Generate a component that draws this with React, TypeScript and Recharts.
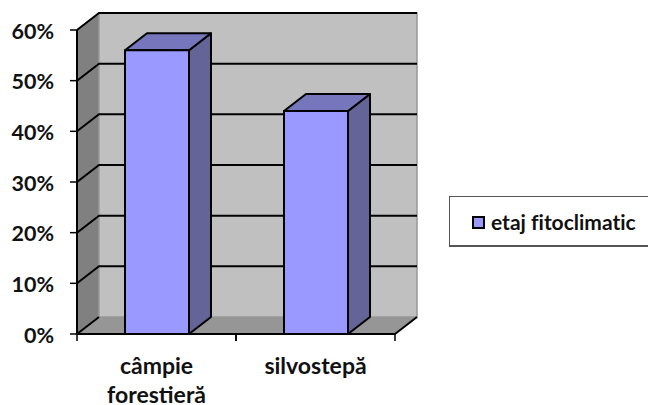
import { BarChart, Bar, XAxis, YAxis, CartesianGrid, Legend, ReferenceArea } from 'recharts';

const categories = ['câmpie forestieră', 'silvostepă'];
const seriesValues = [0.56, 0.44];
const yTicks = [0, 0.1, 0.2, 0.3, 0.4, 0.5, 0.6];
const seriesName = 'etaj fitoclimatic';

const chartData = categories.map((name, i) => ({ name, value: seriesValues[i] }));

const FONT = 'Lato, "Open Sans", sans-serif';
const DX = 22; // 3d depth
const DY = 17;
const PLOT_W = 318;

// side wall, floor and back wall of the 3d box
const Walls = (props: any) => {
  const { x, y, width, height } = props;
  const b = y + height;
  const r = x + width;
  return (
    <g>
      <polygon points={`${x},${y} ${x + DX},${y - DY} ${x + DX},${b - DY} ${x},${b}`} fill="#808080" />
      <rect x={x + DX} y={y - DY} width={width} height={height} fill="#c0c0c0" stroke="#999" strokeWidth={1.5} />
      <polygon points={`${x},${b} ${x + DX},${b - DY} ${r + DX},${b - DY} ${r},${b}`} fill="#969696" />
      <path d={`M${x},${b}L${x + DX},${b - DY}M${r},${b}L${r + DX},${b - DY}`} stroke="#000" strokeWidth={2} fill="none" />
    </g>
  );
};

const GridLine = (props: any) => {
  const { x1, y1, x2, index } = props;
  if (index === 0) return <g key="floor" />;
  return (
    <path
      key={`grid-${index}`}
      d={`M${x1},${y1}L${x1 + DX},${y1 - DY}L${x2 + DX},${y1 - DY}`}
      fill="none"
      stroke="#000"
      strokeWidth={2}
    />
  );
};

const Bar3D = (props: any) => {
  const { x, y, width, height } = props;
  const r = x + width;
  const b = y + height;
  return (
    <g stroke="#000" strokeWidth={2} strokeLinejoin="round">
      <polygon points={`${r},${y} ${r + DX},${y - DY} ${r + DX},${b - DY} ${r},${b}`} fill="#646499" />
      <polygon points={`${x},${y} ${x + DX},${y - DY} ${r + DX},${y - DY} ${r},${y}`} fill="#7676bc" />
      <rect x={x} y={y} width={width} height={height} fill="#9999ff" />
    </g>
  );
};

const CategoryTick = (props: any) => {
  const { x, y, payload } = props;
  const band = PLOT_W / categories.length;
  const words = String(payload.value).split(' ');
  return (
    <g>
      <path
        d={`M${x - band / 2},${y}v7M${x + band / 2},${y}v7`}
        stroke="#000"
        strokeWidth={1.5}
      />
      <text textAnchor="middle" fontFamily={FONT} fontWeight={700} fontSize={23} fill="#111">
        {words.map((w, i) => (
          <tspan key={w} x={x} y={y + 40 + i * 29}>
            {w}
          </tspan>
        ))}
      </text>
    </g>
  );
};

const LegendBox = () => (
  <div
    style={{
      boxSizing: 'border-box',
      width: 199,
      height: 51,
      border: '1px solid #555',
      borderBottomWidth: 2,
      borderRight: 'none',
      display: 'flex',
      alignItems: 'center',
      paddingLeft: 22,
      fontFamily: FONT,
      fontWeight: 700,
      fontSize: 21,
      fontVariantLigatures: 'none',
      color: '#111',
      background: '#fff',
    }}
  >
    <span
      style={{
        boxSizing: 'border-box',
        width: 13,
        height: 13,
        background: '#9999ff',
        border: '2px solid #000',
        marginRight: 6,
        marginTop: 2,
      }}
    />
    {seriesName}
  </div>
);

export default function App() {
  return (
    <div style={{ position: 'absolute', left: 0, top: 0, width: 648, height: 405 }}>
      <BarChart
        width={648}
        height={405}
        data={chartData}
        barSize={64}
        margin={{ top: 30, right: 54, bottom: 0, left: 0 }}
      >
        <ReferenceArea y1={0} y2={0.6} shape={Walls} ifOverflow="visible" zIndex={-200} />
        <CartesianGrid vertical={false} horizontal={GridLine} />
        <XAxis
          dataKey="name"
          height={71}
          interval={0}
          axisLine={{ stroke: '#000', strokeWidth: 2 }}
          tickLine={false}
          tickSize={0}
          tickMargin={0}
          tick={CategoryTick}
        />
        <YAxis
          width={77}
          domain={[0, 0.6]}
          ticks={yTicks}
          interval={0}
          tickFormatter={(v: number) => `${Math.round(v * 100)}%`}
          axisLine={{ stroke: '#000', strokeWidth: 2 }}
          tickLine={{ stroke: '#000', strokeWidth: 1.5 }}
          tickSize={7}
          tickMargin={16}
          tick={{ fill: '#111', fontFamily: FONT, fontWeight: 700, fontSize: 21.5, dy: 1 }}
        />
        <Bar dataKey="value" name={seriesName} shape={Bar3D} isAnimationActive={false} />
        <Legend
          layout="vertical"
          align="right"
          verticalAlign="middle"
          content={LegendBox}
          wrapperStyle={{ left: 449, top: 196, right: 'auto', width: 199 }}
        />
      </BarChart>
    </div>
  );
}
